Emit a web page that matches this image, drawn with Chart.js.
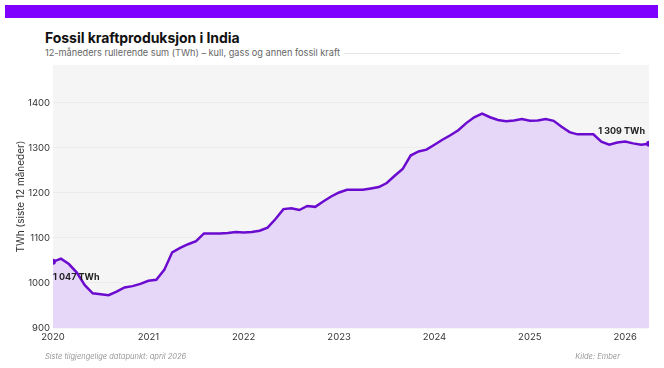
<!DOCTYPE html>
<html>
<head>
<meta charset="utf-8">
<script src="https://cdn.jsdelivr.net/npm/chart.js@4/dist/chart.umd.min.js"></script>
<style>
  html, body { margin: 0; padding: 0; background: #fff; }
  body { width: 664px; height: 368px; position: relative; overflow: hidden; font-family: Inter, "Open Sans", sans-serif; }
  #bar { position: absolute; left: 5px; top: 5px; width: 653px; height: 13px; background: #7f00ff; }
  #title { position: absolute; left: 45px; top: 29px; font-size: 14px; font-weight: 700; color: #111; letter-spacing: -0.05px; }
  #subrow { position: absolute; left: 45px; top: 47px; width: 575px; display: flex; align-items: center; }
  #sub { font-size: 9.2px; color: #666; white-space: nowrap; }
  #subline { flex: 1; height: 1px; background: #e4e4e4; margin-left: 4px; margin-top: 2px; }
  #foot1 { position: absolute; left: 45px; top: 352px; font-size: 7.5px; color: #999; font-style: italic; }
  #foot2 { position: absolute; right: 44px; top: 352px; font-size: 7.5px; color: #999; font-style: italic; }
  #c { position: absolute; left: 0; top: 0; }
</style>
</head>
<body>
<div id="bar"></div>
<div id="title">Fossil kraftproduksjon i India</div>
<div id="subrow"><span id="sub">12-måneders rullerende sum (TWh) – kull, gass og annen fossil kraft</span><span id="subline"></span></div>
<canvas id="c" width="664" height="368"></canvas>
<div id="foot1">Siste tilgjengelige datapunkt: april 2026</div>
<div id="foot2">Kilde: Ember</div>
<script>
// Monthly series, Jan 2020 – Apr 2026 (12-month rolling sum, TWh)
const startYear = 2020;
const values = [
  1047, 1054, 1042, 1023, 995, 977, 975, 973, 981, 990, 993, 998,   // 2020
  1005, 1007, 1029, 1068, 1078, 1086, 1093, 1110, 1110, 1110, 1111, 1113, // 2021
  1112, 1113, 1116, 1123, 1142, 1164, 1166, 1162, 1171, 1169, 1181, 1192, // 2022
  1201, 1207, 1207, 1207, 1210, 1213, 1222, 1238, 1253, 1283, 1292, 1296, // 2023
  1307, 1318, 1328, 1339, 1355, 1368, 1376, 1368, 1362, 1359, 1361, 1364, // 2024
  1360, 1361, 1364, 1360, 1347, 1335, 1330, 1330, 1330, 1314, 1307, 1312, // 2025
  1314, 1310, 1307, 1309                                                  // 2026
];
const yearTicks = [2020, 2021, 2022, 2023, 2024, 2025, 2026];
const yTicks = [900, 1000, 1100, 1200, 1300, 1400];
const firstLabel = "1 047 TWh";
const lastLabel = "1 309 TWh";

const points = values.map((v, i) => ({ x: startYear + i / 12, y: v }));
const lastIdx = values.length - 1;

const bgPlugin = {
  id: 'plotBg',
  beforeDraw(chart) {
    const { ctx, chartArea: a } = chart;
    ctx.save();
    ctx.fillStyle = '#f5f5f5';
    ctx.fillRect(a.left, a.top, a.right - a.left, a.bottom - a.top);
    ctx.restore();
  }
};
const labelPlugin = {
  id: 'endLabels',
  afterDatasetsDraw(chart) {
    const { ctx, scales } = chart;
    const p0 = points[0], p1 = points[lastIdx];
    ctx.save();
    ctx.font = '700 9px Inter, sans-serif';
    ctx.fillStyle = '#222';
    ctx.textBaseline = 'middle';
    ctx.textAlign = 'left';
    ctx.fillText(firstLabel, scales.x.getPixelForValue(p0.x), scales.y.getPixelForValue(p0.y) + 15);
    ctx.textAlign = 'right';
    ctx.fillText(lastLabel, scales.x.getPixelForValue(p1.x) - 4, scales.y.getPixelForValue(p1.y) - 13);
    ctx.restore();
  }
};

new Chart(document.getElementById('c'), {
  type: 'line',
  data: {
    datasets: [{
      data: points,
      borderColor: '#6c0bd0',
      backgroundColor: '#e6d6f7',
      fill: 'start',
      borderWidth: 2.5,
      tension: 0,
      pointRadius: (c) => (c.dataIndex === 0 || c.dataIndex === lastIdx) ? 3 : 0,
      pointBackgroundColor: '#6c0bd0',
      pointBorderWidth: 0
    }]
  },
  options: {
    responsive: false,
    animation: false,
    layout: { padding: { left: 0, top: 65, right: 15, bottom: 0 } },
    plugins: { legend: { display: false }, tooltip: { enabled: false } },
    scales: {
      x: {
        type: 'linear',
        min: 2020,
        max: 2026.25,
        afterBuildTicks: (s) => { s.ticks = yearTicks.map(v => ({ value: v })); },
        afterFit: (s) => { s.height = 40; },
        grid: { display: false, drawTicks: false },
        border: { display: false },
        ticks: { color: '#333', font: { family: 'Inter', size: 9.5 }, padding: 3, maxRotation: 0, callback: (v) => String(v) }
      },
      y: {
        min: 900,
        max: 1484,
        afterBuildTicks: (s) => { s.ticks = yTicks.map(v => ({ value: v })); },
        afterFit: (s) => { s.width = 53; },
        grid: { color: 'rgba(0,0,0,0.035)', drawTicks: false },
        border: { display: false },
        ticks: { color: '#333', font: { family: 'Inter', size: 9.5 }, padding: 3, callback: (v) => String(v) },
        title: { display: true, text: 'TWh (siste 12 måneder)', color: '#333', font: { family: 'Inter', size: 10 }, padding: { top: 15, bottom: 0 } }
      }
    }
  },
  plugins: [bgPlugin, labelPlugin]
});
</script>
</body>
</html>
